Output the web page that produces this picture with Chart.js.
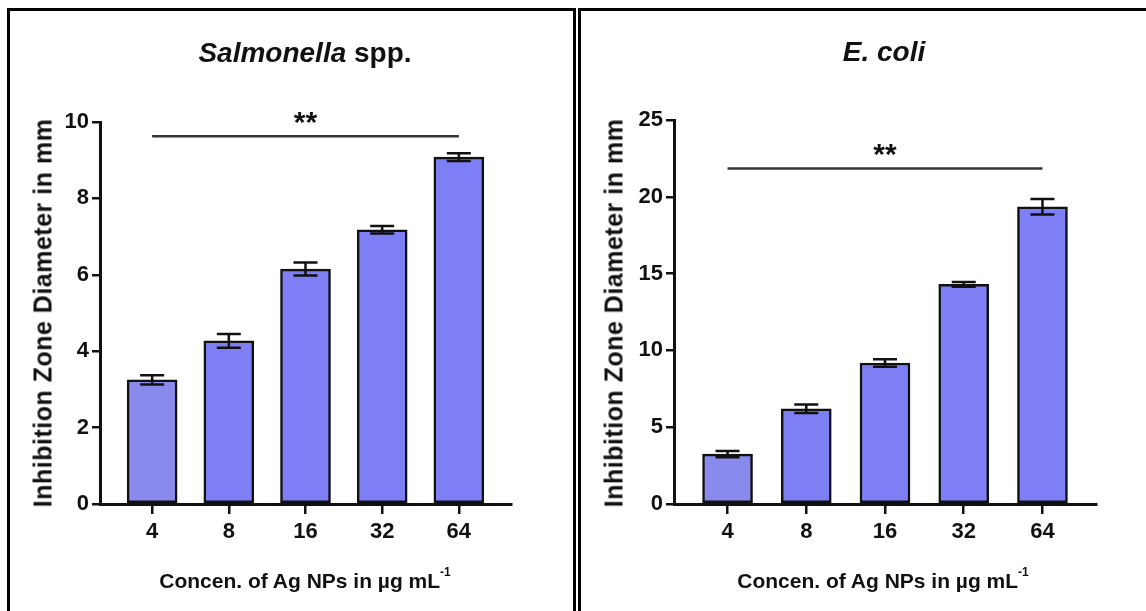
<!DOCTYPE html>
<html>
<head>
<meta charset="utf-8">
<script src="https://cdn.jsdelivr.net/npm/chart.js@4.4.1/dist/chart.umd.min.js"></script>
<style>
  html, body { margin: 0; padding: 0; background: #fff; width: 1146px; height: 611px; overflow: hidden; position: relative; }
  .panel { position: absolute; box-sizing: border-box; border: 3px solid #000; border-bottom: none; }
  #panel-a { left: 7px; top: 8px; width: 569px; height: 620px; }
  #panel-b { left: 578px; top: 8px; width: 600px; height: 620px; border-right: none; }
  canvas { position: absolute; top: 0; }
  #chart-a { left: 0; }
  #chart-b { left: 576px; }
  .txt { position: absolute; font-family: "Liberation Sans", Arial, sans-serif; font-weight: bold; color: #111; white-space: nowrap; transform: translate(-50%, -50%); }
  .title { font-size: 28px; }
  .ytitle { font-size: 25px; letter-spacing: 0.5px; transform: translate(-50%, -50%) rotate(-90deg); }
  .xtitle { font-size: 21px; }
  .xtitle sup { font-size: 12px; vertical-align: top; position: relative; top: -4px; }
</style>
</head>
<body>
<div class="panel" id="panel-a"></div>
<div class="panel" id="panel-b"></div>
<canvas id="chart-a" width="576" height="611"></canvas>
<canvas id="chart-b" width="570" height="611"></canvas>

<div class="txt title" style="left:305px;top:53px"><i>Salmonella</i> spp.</div>
<div class="txt title" style="left:884px;top:52px"><i>E. coli</i></div>
<div class="txt ytitle" style="left:43px;top:313px">Inhibition Zone Diameter in mm</div>
<div class="txt ytitle" style="left:614px;top:313px">Inhibition Zone Diameter in mm</div>
<div class="txt xtitle" style="left:305px;top:581px">Concen. of Ag NPs in µg mL<sup>-1</sup></div>
<div class="txt xtitle" style="left:883px;top:581px">Concen. of Ag NPs in µg mL<sup>-1</sup></div>

<script>
// concentrations (µg/mL) shown on the x axis
const doses = ["4", "8", "16", "32", "64"];

// mean inhibition zone (mm) and SD per concentration
const salmonellaMean = [3.25, 4.27, 6.15, 7.18, 9.08];
const salmonellaSd = [0.12, 0.18, 0.17, 0.1, 0.1];
const ecoliMean = [3.25, 6.2, 9.18, 14.3, 19.35];
const ecoliSd = [0.2, 0.27, 0.25, 0.15, 0.5];

// y axis ranges
const salmonellaMax = 10, salmonellaStep = 2;
const ecoliMax = 25, ecoliStep = 5;

// significance bar height and its label
const salmonellaSig = 9.63;
const ecoliSig = 21.85;
const sigLabel = "**";

const barColors = ["#8a8aec", "#7f7ff5", "#7f7ff5", "#7f7ff5", "#7f7ff5"];
const FONT = '"Liberation Sans", Arial, sans-serif';
const INK = "#111";

// SD whiskers + the bracket line with stars across all bars
const errorBars = {
  id: "errorBars",
  afterDatasetsDraw(chart, args, opts) {
    const { ctx, scales: { x, y } } = chart;
    const ds = chart.data.datasets[0];
    const meta = chart.getDatasetMeta(0);
    ctx.save();
    ctx.strokeStyle = INK;
    ctx.lineWidth = 2.5;
    meta.data.forEach((bar, i) => {
      const m = ds.data[i].y, s = opts.sd[i];
      const top = y.getPixelForValue(m + s), bot = y.getPixelForValue(m - s);
      const cap = 12;
      ctx.beginPath();
      ctx.moveTo(bar.x, top); ctx.lineTo(bar.x, bot);
      ctx.moveTo(bar.x - cap, top); ctx.lineTo(bar.x + cap, top);
      ctx.moveTo(bar.x - cap, bot); ctx.lineTo(bar.x + cap, bot);
      ctx.stroke();
    });

    const ly = y.getPixelForValue(opts.level);
    const x0 = x.getPixelForValue(0), x1 = x.getPixelForValue(doses.length - 1);
    ctx.strokeStyle = "#333";
    ctx.beginPath();
    ctx.moveTo(x0, ly); ctx.lineTo(x1, ly);
    ctx.stroke();
    ctx.fillStyle = INK;
    ctx.font = "bold 30px " + FONT;
    ctx.textAlign = "center";
    ctx.textBaseline = "alphabetic";
    ctx.fillText(opts.label, (x0 + x1) / 2, ly - 4);
    ctx.restore();
  }
};

function makeChart(id, means, sds, yMax, yStep, sig, pad) {
  return new Chart(document.getElementById(id), {
    type: "bar",
    data: {
      datasets: [{
        data: means.map((v, i) => ({ x: i, y: v })),
        backgroundColor: barColors,
        borderColor: INK,
        borderWidth: 2.5,
        borderSkipped: false,
        barThickness: 50
      }]
    },
    options: {
      responsive: false,
      animation: false,
      devicePixelRatio: 1,
      layout: { padding: pad },
      plugins: {
        legend: { display: false },
        tooltip: { enabled: false },
        errorBars: { sd: sds, level: sig, label: sigLabel }
      },
      scales: {
        x: {
          type: "linear",
          min: -0.68,
          max: doses.length - 1 + 0.68,
          offset: false,
          afterBuildTicks: (s) => { s.ticks = doses.map((_, i) => ({ value: i })); },
          afterFit: (s) => { s.height = 60; },
          grid: { display: true, drawOnChartArea: false, drawTicks: true, tickLength: 10, lineWidth: 2.5, color: INK, offset: false },
          border: { display: true, width: 3, color: INK },
          ticks: {
            callback: (v, i) => doses[i],
            color: INK,
            font: { family: FONT, size: 22, weight: "bold" },
            padding: 5,
            maxRotation: 0,
            autoSkip: false
          }
        },
        y: {
          min: 0,
          max: yMax,
          afterFit: (s) => { s.width = 60; },
          grid: { display: true, drawOnChartArea: false, drawTicks: true, tickLength: 8, lineWidth: 2.5, color: INK },
          border: { display: true, width: 3, color: INK },
          ticks: {
            stepSize: yStep,
            color: INK,
            font: { family: FONT, size: 22, weight: "bold" },
            padding: 3
          }
        }
      }
    },
    plugins: [errorBars]
  });
}

makeChart("chart-a", salmonellaMean, salmonellaSd, salmonellaMax, salmonellaStep, salmonellaSig,
  { left: 40, right: 65, top: 122, bottom: 47 });
makeChart("chart-b", ecoliMean, ecoliSd, ecoliMax, ecoliStep, ecoliSig,
  { left: 38, right: 50, top: 120, bottom: 47 });
</script>
</body>
</html>
